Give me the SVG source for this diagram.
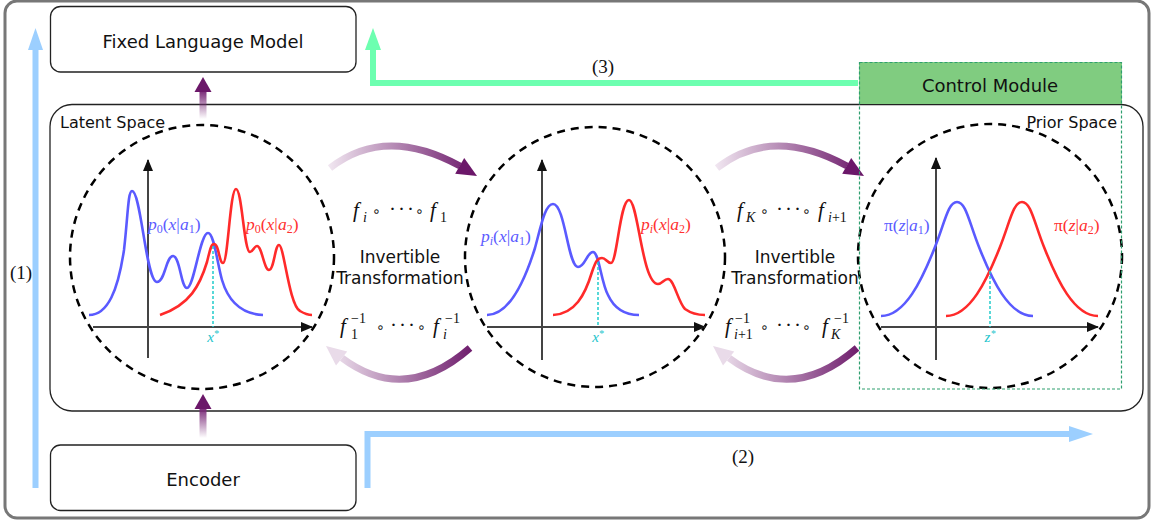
<svg xmlns="http://www.w3.org/2000/svg" width="1153" height="524" viewBox="0 0 1153 524">
<style>
.box{fill:#fff;stroke:#222;stroke-width:1.3}
.lbl{font-family:"DejaVu Sans",sans-serif;font-size:18px;fill:#111}
.lbl.sm{font-size:16px}
.lbl.md{font-size:17px}
.math{font-family:"Liberation Serif","DejaVu Serif",serif;fill:#111}
.ring{font-family:"DejaVu Sans",sans-serif;font-size:14px}
.it{font-style:italic}
.circ{fill:none;stroke:#000;stroke-width:2.5;stroke-dasharray:8 6}
.axis{stroke:#444;stroke-width:2;fill:none}
.bc{fill:none;stroke:#5a5aff;stroke-width:2.6}
.rc{fill:none;stroke:#ff2a2a;stroke-width:2.6}
.cy{stroke:#22cccc;stroke-width:1.5;stroke-dasharray:3 2}
.bl{fill:#5b5bff}
.rd{fill:#ff3030}
.cl{fill:#22c4cc}
.paren{font-family:"Liberation Serif",serif;font-size:19px;fill:#111}
.blue{stroke:#9ccfff;stroke-width:6;fill:none}
.green{stroke:#6dffb0;stroke-width:6;fill:none}
.purp{fill:#6b1769}
.curv{fill:none;stroke:url(#cg);stroke-width:7}
</style>
<defs>
<marker id="ah" markerWidth="12" markerHeight="10" refX="11" refY="5" orient="auto" markerUnits="userSpaceOnUse"><path d="M0,0 L12,5 L0,10 Z" fill="#111"/></marker>
<linearGradient id="vg" x1="0" y1="0" x2="0" y2="1"><stop offset="0" stop-color="#7a2a78"/><stop offset="1" stop-color="#7a2a78" stop-opacity="0"/></linearGradient>
<linearGradient id="cg" gradientUnits="userSpaceOnUse" x1="326" y1="0" x2="476" y2="0"><stop offset="0" stop-color="#f3eaf3"/><stop offset="1" stop-color="#6b1769"/></linearGradient>
</defs>

<rect x="5" y="1" width="1144" height="517" rx="12" fill="#fff" stroke="#777" stroke-width="3"/>

<g id="latent-box">
<rect x="50" y="104.5" width="1093" height="306.5" rx="22" fill="#fff" stroke="#222" stroke-width="1.3"/>
<text x="60" y="128" class="lbl sm">Latent Space</text>
<text x="1117" y="128" class="lbl sm" text-anchor="end">Prior Space</text>
</g>

<g id="fixed-lm">
<rect class="box" x="50.5" y="6.5" width="305.5" height="65.5" rx="10"/>
<text class="lbl" x="203" y="48" text-anchor="middle">Fixed Language Model</text>
</g>

<g id="encoder">
<rect class="box" x="50.5" y="445" width="305.5" height="65.5" rx="10"/>
<text class="lbl" x="203" y="486" text-anchor="middle">Encoder</text>
</g>

<g id="control-module">
<rect x="859" y="62" width="263" height="42" fill="#80cc80"/>
<text class="lbl" x="990" y="92" text-anchor="middle">Control Module</text>
</g>

<g id="circle-latent">
<circle class="circ" cx="202" cy="257" r="132"/>
<line class="axis" x1="148" y1="358" x2="148" y2="160" marker-end="url(#ah)"/>
<line class="axis" x1="93" y1="327" x2="312" y2="327" marker-end="url(#ah)"/>
<path class="bc" d="M89 315 C108 315 118 290 124 250 C128 215 128 191 132 191 C141 191 146 282 157 282 C165 282 166 256 173 256 C180 256 181 288 187 288 C194 288 200 233 208 233 C214 233 217 262 222 280 C228 300 240 314 263 315"/>
<path class="rc" d="M160 315 C190 305 200 285 207 262 C210 250 211 244 214 244 C219 244 219 263 223 263 C228 263 230 189 236 189 C242 189 244 252 250 252 C253 252 254 246 257 246 C262 246 264 270 269 270 C274 270 275 245 279 245 C284 245 289 305 300 311 C305 314 308 315 312 315"/>
<line class="cy" x1="213" y1="246" x2="213" y2="327"/>
<text class="math it cl" x="213" y="342" text-anchor="middle" font-size="15">x<tspan dy="-5" font-size="10">*</tspan></text>
<text class="math bl" x="148" y="230" font-size="17.5"><tspan class="it">p</tspan><tspan dy="3" font-size="12">0</tspan><tspan dy="-3">(</tspan><tspan class="it">x</tspan>|<tspan class="it">a</tspan><tspan dy="3" font-size="12">1</tspan><tspan dy="-3">)</tspan></text>
<text class="math rd" x="246" y="230" font-size="17.5"><tspan class="it">p</tspan><tspan dy="3" font-size="12">0</tspan><tspan dy="-3">(</tspan><tspan class="it">x</tspan>|<tspan class="it">a</tspan><tspan dy="3" font-size="12">2</tspan><tspan dy="-3">)</tspan></text>
</g>

<g id="circle-mid">
<circle class="circ" cx="595" cy="257" r="130"/>
<line class="axis" x1="542" y1="360" x2="542" y2="160" marker-end="url(#ah)"/>
<line class="axis" x1="487" y1="327" x2="705" y2="327" marker-end="url(#ah)"/>
<path class="bc" d="M487 315 C510 315 525 280 535 248 C541 226 545 204 553 204 C565 204 568 267 578 267 C585 267 587 252 593 252 C599 252 601 282 608 295 C614 308 625 315 639 315"/>
<path class="rc" d="M553 315 C575 314 585 295 592 272 C596 260 598 258 602 258 C606 258 607 263 611 263 C617 263 620 200 629 200 C638 200 642 284 658 284 C662 284 664 279 668 279 C674 279 678 302 685 309 C692 314 698 315 705 315"/>
<line class="cy" x1="598" y1="262" x2="598" y2="327"/>
<text class="math it cl" x="598" y="342" text-anchor="middle" font-size="15">x<tspan dy="-5" font-size="10">*</tspan></text>
<text class="math bl" x="481" y="242" font-size="17.5"><tspan class="it">p</tspan><tspan class="it" dy="3" font-size="12">i</tspan><tspan dy="-3">(</tspan><tspan class="it">x</tspan>|<tspan class="it">a</tspan><tspan dy="3" font-size="12">1</tspan><tspan dy="-3">)</tspan></text>
<text class="math rd" x="641" y="230" font-size="17.5"><tspan class="it">p</tspan><tspan class="it" dy="3" font-size="12">i</tspan><tspan dy="-3">(</tspan><tspan class="it">x</tspan>|<tspan class="it">a</tspan><tspan dy="3" font-size="12">2</tspan><tspan dy="-3">)</tspan></text>
</g>

<g id="circle-prior">
<circle class="circ" cx="990" cy="256" r="132"/>
<line class="axis" x1="936" y1="360" x2="936" y2="158" marker-end="url(#ah)"/>
<line class="axis" x1="881" y1="327" x2="1098" y2="327" marker-end="url(#ah)"/>
<path class="bc" d="M881 316 C905 316 922 280 935 247 C945 222 948 202 957 202 C966 202 969 222 979 247 C992 280 1009 316 1033 316"/>
<path class="rc" transform="translate(65,0)" d="M881 316 C905 316 922 280 935 247 C945 222 948 202 957 202 C966 202 969 222 979 247 C992 280 1009 316 1033 316"/>
<line class="cy" x1="990" y1="271" x2="990" y2="327"/>
<text class="math it cl" x="990" y="342" text-anchor="middle" font-size="15">z<tspan dy="-5" font-size="10">*</tspan></text>
<text class="math bl" x="884" y="231" font-size="17.5">π(<tspan class="it">z</tspan>|<tspan class="it">a</tspan><tspan dy="3" font-size="12">1</tspan><tspan dy="-3">)</tspan></text>
<text class="math rd" x="1054" y="231" font-size="17.5">π(<tspan class="it">z</tspan>|<tspan class="it">a</tspan><tspan dy="3" font-size="12">2</tspan><tspan dy="-3">)</tspan></text>
</g>

<g id="transform-1">
<text class="math" font-size="21"><tspan class="it" x="353" y="217">f</tspan><tspan class="it" x="363" y="222" font-size="14">i</tspan><tspan class="ring" x="372" y="216">∘</tspan><tspan x="389" y="216">·</tspan><tspan x="398" y="216">·</tspan><tspan x="407" y="216">·</tspan><tspan class="ring" x="415" y="216">∘</tspan><tspan class="it" x="430" y="217">f</tspan><tspan x="440" y="222" font-size="14">1</tspan></text>
<text class="lbl md" x="400" y="263" text-anchor="middle">Invertible</text>
<text class="lbl md" x="400" y="284" text-anchor="middle">Transformation</text>
<text class="math" font-size="21"><tspan class="it" x="340" y="333">f</tspan><tspan x="351" y="323" font-size="14">−1</tspan><tspan x="351" y="339" font-size="14">1</tspan><tspan class="ring" x="376" y="332">∘</tspan><tspan x="390" y="332">·</tspan><tspan x="399" y="332">·</tspan><tspan x="408" y="332">·</tspan><tspan class="ring" x="417" y="332">∘</tspan><tspan class="it" x="433" y="333">f</tspan><tspan x="445" y="323" font-size="14">−1</tspan><tspan class="it" x="443" y="339" font-size="14">i</tspan></text>
</g>

<g id="transform-2">
<text class="math" font-size="21"><tspan class="it" x="737" y="217">f</tspan><tspan class="it" x="746" y="222" font-size="14">K</tspan><tspan class="ring" x="760" y="216">∘</tspan><tspan x="776" y="216">·</tspan><tspan x="785" y="216">·</tspan><tspan x="794" y="216">·</tspan><tspan class="ring" x="802" y="216">∘</tspan><tspan class="it" x="818" y="217">f</tspan><tspan x="828" y="222" font-size="14"><tspan class="it">i</tspan>+1</tspan></text>
<text class="lbl md" x="795" y="263" text-anchor="middle">Invertible</text>
<text class="lbl md" x="795" y="284" text-anchor="middle">Transformation</text>
<text class="math" font-size="21"><tspan class="it" x="725" y="333">f</tspan><tspan x="735" y="323" font-size="14">−1</tspan><tspan x="734" y="339" font-size="14"><tspan class="it">i</tspan>+1</tspan><tspan class="ring" x="760" y="332">∘</tspan><tspan x="776" y="332">·</tspan><tspan x="785" y="332">·</tspan><tspan x="794" y="332">·</tspan><tspan class="ring" x="802" y="332">∘</tspan><tspan class="it" x="822" y="333">f</tspan><tspan x="834" y="323" font-size="14">−1</tspan><tspan class="it" x="831" y="339" font-size="14">K</tspan></text>
</g>

<g id="connectors">
<rect x="199.5" y="91" width="7" height="28" fill="url(#vg)"/>
<polygon class="purp" points="203,77 194.5,92 211.5,92"/>
<rect x="199.5" y="408" width="7" height="30" fill="url(#vg)"/>
<polygon class="purp" points="203,394 194.5,409 211.5,409"/>

<g id="curved-1">
<path class="curv" d="M330 168 Q385 125 460 166"/>
<polygon class="purp" points="477,176 464.2,158.1 455.2,173.7"/>
<path class="curv" d="M470 348 Q405 405 342 358"/>
<polygon points="326,346 347.2,351.5 336,365.5" fill="#e9dbe9"/>
</g>
<g id="curved-2" transform="translate(387,0)">
<path class="curv" d="M330 168 Q385 125 460 166"/>
<polygon class="purp" points="477,176 464.2,158.1 455.2,173.7"/>
<path class="curv" d="M470 348 Q405 405 342 358"/>
<polygon points="326,346 347.2,351.5 336,365.5" fill="#e9dbe9"/>
</g>

<path class="blue" d="M35.5 488 V48"/>
<polygon fill="#9ccfff" points="35.5,28 28,50 43,50"/>
<text class="paren" x="21" y="279" text-anchor="middle">(1)</text>

<path class="blue" d="M367.5 488 V434 H1071"/>
<polygon fill="#9ccfff" points="1093,434 1069,426 1069,442"/>
<text class="paren" x="743" y="463" text-anchor="middle">(2)</text>

<path class="green" d="M858 83 H373 V48"/>
<polygon fill="#6dffb0" points="373,28 365,50 381,50"/>
<text class="paren" x="603" y="73" text-anchor="middle">(3)</text>
</g>

<rect x="859.5" y="62.5" width="262" height="326.5" fill="none" stroke="#2f9f6f" stroke-width="1.2" stroke-dasharray="3 2"/>
</svg>
